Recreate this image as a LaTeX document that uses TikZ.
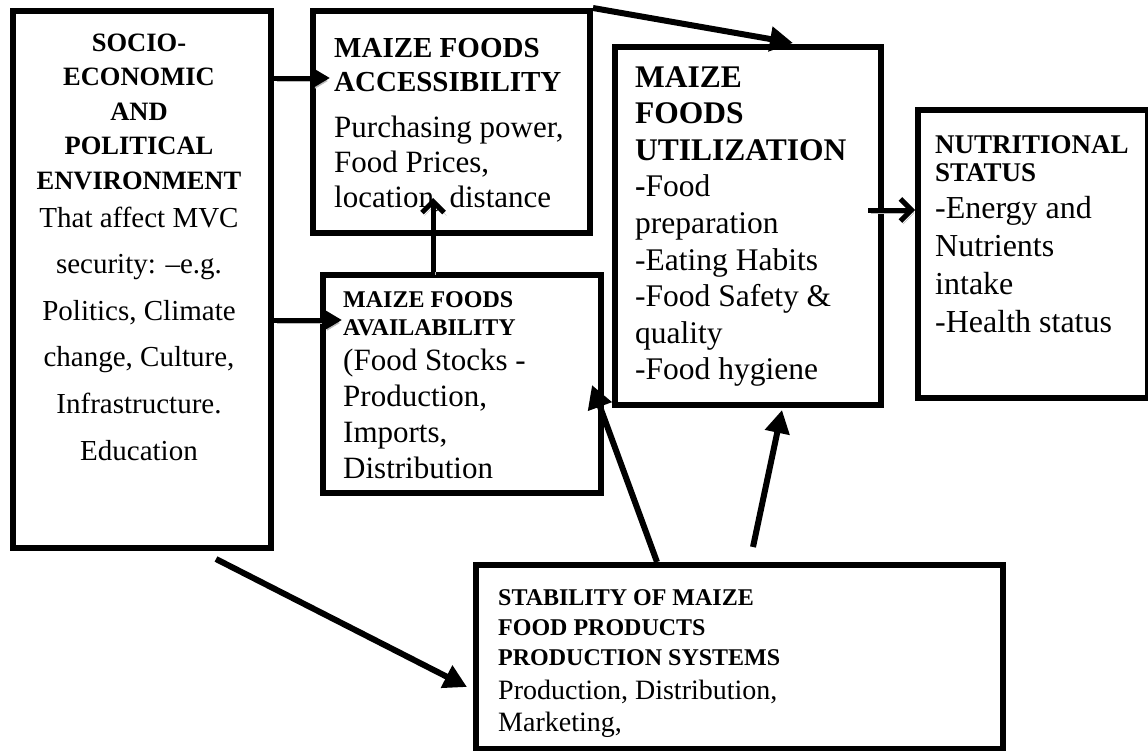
\documentclass[tikz,border=0pt]{standalone}
\usepackage{fontspec}
\setmainfont{Liberation Serif}
\usetikzlibrary{arrows.meta,calc}
\begin{document}
\begin{tikzpicture}[x=1pt,y=-1pt,
  box/.style={draw,line width=6pt,fill=white,inner sep=0pt,anchor=north west},
  txt/.style={inner sep=0pt,anchor=north west,align=left},
  shad/.style={preaction={draw=gray!55,transform canvas={xshift=2.5pt,yshift=-3pt}}},
  arr/.style={line width=6pt,-{Triangle[length=23pt,width=24pt]}},
  sarr/.style={line width=5pt,-{Triangle[length=20pt,width=22pt]},shad},
  barb/.style={line width=5pt,-{Straight Barb[length=11pt,width=22pt,line width=5pt]},shad}]
\useasboundingbox (0,0) rectangle (1148,750);
% boxes
\node[box,minimum width=258pt,minimum height=537pt] (L) at (10,8) {};
\node[box,minimum width=277pt,minimum height=222pt] (A) at (310,8) {};
\node[box,minimum width=278pt,minimum height=218pt] (V) at (320,272) {};
\node[box,minimum width=266pt,minimum height=358pt] (U) at (612,44) {};
\node[box,minimum width=230pt,minimum height=288pt] (N) at (915,107) {};
\node[box,minimum width=527pt,minimum height=184pt] (S) at (473,562) {};
% texts
\node[txt,anchor=north,align=center,font=\fontsize{26.5}{34.5}\selectfont\bfseries] (Lh) at (139,33.5)
  {SOCIO-\\ECONOMIC\\AND\\POLITICAL\\ENVIRONMENT};
\node[txt,anchor=north,align=center,font=\fontsize{29}{46.6}\selectfont] (Lb) at (139,206.5)
  {That affect MVC\\security: –e.g.\\Politics, Climate\\change, Culture,\\Infrastructure.\\Education};
\node[txt,font=\fontsize{29}{34}\selectfont\bfseries] (Ah) at (334,38) {MAIZE FOODS\\ACCESSIBILITY};
\node[txt,font=\fontsize{31}{35}\selectfont] (Ab) at (334,116) {Purchasing power,\\Food Prices,\\location, distance};
\node[txt,font=\fontsize{24}{28}\selectfont\bfseries] (Vh) at (343,291) {MAIZE FOODS\\AVAILABILITY};
\node[txt,font=\fontsize{31}{36}\selectfont] (Vb) at (343,349) {(Food Stocks -\\Production,\\Imports,\\Distribution};
\node[txt,font=\fontsize{31.5}{36.6}\selectfont] (Ut) at (635,66)
  {\textbf{MAIZE}\\\textbf{FOODS}\\\textbf{UTILIZATION}\\\textbf{-}Food\\preparation\\-Eating Habits\\-Food Safety \&\\quality\\-Food hygiene};
\node[txt,font=\fontsize{27}{28}\selectfont\bfseries] (Nh) at (935,135.5) {NUTRITIONAL\\STATUS};
\node[txt,font=\fontsize{32}{38}\selectfont] (Nb) at (935,196) {-Energy and\\Nutrients\\intake\\-Health status};
\node[txt,font=\fontsize{24}{30}\selectfont\bfseries] (Sh) at (498,589) {STABILITY OF MAIZE\\FOOD PRODUCTS\\PRODUCTION SYSTEMS};
\node[txt,font=\fontsize{28}{32}\selectfont] (Sb) at (498,680) {Production, Distribution,\\Marketing,};
% connectors
\draw[sarr] (L.east |- 0,78) -- ($(A.west |- 0,78)+(20,0)$);
\draw[sarr] (L.east |- 0,320) -- ($(V.west |- 0,320)+(22,0)$);
\draw[barb] (433,0 |- V.north) -- ($(433,0 |- A.south)+(0,-38)$);
\draw[arr] (A.north east) -- ($(U.north west)+(181,-1)$);
\draw[barb] ($(U.east |- 0,210)+(-16,0)$) -- (N.west |- 0,210);
\draw[arr] ($(L.south east)+(-58,8)$) -- ($(S.west |- 0,687)+(-6,0)$);
\draw[arr] ($(S.north west)+(184,0)$) -- ($(V.north east)+(-12,113)$);
\draw[arr] ($(S.north west)+(280,-15)$) -- ($(U.south west)+(170,2)$);
\end{tikzpicture}
\end{document}
